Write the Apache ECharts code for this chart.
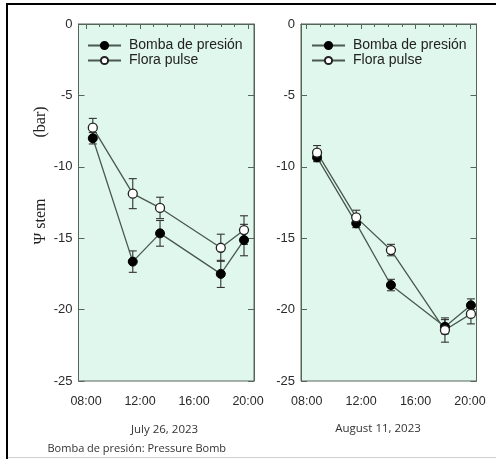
<!DOCTYPE html>
<html>
<head>
<meta charset="utf-8">
<script src="https://cdn.jsdelivr.net/npm/echarts@6/dist/echarts.min.js"></script>
<style>
html,body{margin:0;padding:0;background:#fff;}
#c{width:496px;height:459px;}
</style>
</head>
<body>
<div id="c"></div>
<script>
// ---- data ----
const seriesNames = ['Bomba de presión', 'Flora pulse'];
const dateLabels = ['July 26, 2023', 'August 11, 2023'];
const footnote = 'Bomba de presión: Pressure Bomb';
const xTickHours = [8, 12, 16, 20];
const yTicks = [0, -5, -10, -15, -20, -25];

// July 26, 2023
const julHours = [8.5, 11.46, 13.48, 17.98, 19.7];
const julBomba = [-8.0, -16.64, -14.66, -17.5, -15.13];
const julBombaErr = [0.4, 0.75, 0.9, 0.95, 1.1];
const julFlora = [-7.26, -11.88, -12.88, -15.67, -14.43];
const julFloraErr = [0.65, 1.05, 0.75, 0.95, 1.0];

// August 11, 2023
const augHours = [8.76, 11.64, 14.19, 18.16, 20.07];
const augBomba = [-9.34, -13.96, -18.28, -21.2, -19.7];
const augBombaErr = [0.3, 0.3, 0.4, 0.5, 0.45];
const augFlora = [-9.01, -13.54, -15.83, -21.43, -20.3];
const augFloraErr = [0.5, 0.5, 0.4, 0.85, 0.7];

// ---- styles ----
const axisColor = '#56645a';
const lineColor = '#4a584e';
const bg = '#dff7ec';
const sans = "'Liberation Sans',Arial,sans-serif";
const hourMinor = [];
for (let h = 8; h <= 20; h++) hourMinor.push(h);

function pts(hours, vals) { return hours.map((h, i) => [h, vals[i]]); }
function errs(hours, vals, e) { return hours.map((h, i) => [h, vals[i] - e[i], vals[i] + e[i]]); }

function fmtHour(v) { return (v < 10 ? '0' : '') + v + ':00'; }

function xAxes(grid, min, max) {
  return [
    {
      type: 'value', gridIndex: grid, min: min, max: max, position: 'bottom',
      axisLine: { show: true, lineStyle: { color: axisColor, width: 1 } },
      axisTick: { show: true, inside: false, length: 5, customValues: xTickHours, lineStyle: { color: axisColor } },
      axisLabel: { customValues: xTickHours, formatter: fmtHour, fontFamily: sans, fontSize: 12.5, color: '#2a2a2a', margin: 14 },
      splitLine: { show: false }
    },
    {
      type: 'value', gridIndex: grid, min: min, max: max, position: 'bottom',
      axisLine: { show: false },
      axisTick: { show: true, inside: false, length: 3, customValues: hourMinor, lineStyle: { color: axisColor } },
      axisLabel: { show: false },
      splitLine: { show: false }
    }
  ];
}
function yAxes(grid) {
  return [
    {
      type: 'value', gridIndex: grid, min: -25, max: 0, interval: 5, position: 'left',
      axisLine: { show: true, lineStyle: { color: axisColor, width: 1 } },
      axisTick: { show: true, inside: true, length: 6, lineStyle: { color: axisColor } },
      axisLabel: { fontFamily: sans, fontSize: 13, color: '#2a2a2a', margin: 6 },
      splitLine: { show: false }
    },
    {
      type: 'value', gridIndex: grid, min: -25, max: 0, interval: 5, position: 'right',
      axisLine: { show: true, lineStyle: { color: axisColor, width: 1 } },
      axisTick: { show: true, inside: true, length: 6, lineStyle: { color: axisColor } },
      axisLabel: { show: false },
      splitLine: { show: false }
    }
  ];
}

function errorSeries(xi, yi, data) {
  return {
    type: 'custom', xAxisIndex: xi, yAxisIndex: yi, z: 2, silent: true,
    encode: { x: 0, y: [1, 2] },
    data: data,
    renderItem: function (params, api) {
      const x = api.value(0), lo = api.value(1), hi = api.value(2);
      const a = api.coord([x, lo]), b = api.coord([x, hi]);
      const w = 4;
      const st = { stroke: '#333', lineWidth: 1.1 };
      return {
        type: 'group', children: [
          { type: 'line', shape: { x1: a[0], y1: a[1], x2: b[0], y2: b[1] }, style: st },
          { type: 'line', shape: { x1: a[0] - w, y1: a[1], x2: a[0] + w, y2: a[1] }, style: st },
          { type: 'line', shape: { x1: b[0] - w, y1: b[1], x2: b[0] + w, y2: b[1] }, style: st }
        ]
      };
    }
  };
}
function lineSeries(name, xi, yi, data, filled) {
  return {
    name: name, type: 'line', xAxisIndex: xi, yAxisIndex: yi, z: 5,
    data: data, symbol: 'circle', symbolSize: 9, showSymbol: true,
    animation: false,
    lineStyle: { color: lineColor, width: 1.3 },
    itemStyle: filled ? { color: '#000', borderColor: '#000', borderWidth: 1 } : { color: '#fff', borderColor: '#222', borderWidth: 1.3 }
  };
}
function legend(left) {
  return {
    orient: 'vertical', left: left, top: 38, itemWidth: 33, itemHeight: 9, itemGap: 0,
    data: seriesNames, selectedMode: false,
    textStyle: { fontFamily: sans, fontSize: 14, color: '#222', lineHeight: 15, padding: [0, 0, 0, 3] },
    padding: 0
  };
}

const chart = echarts.init(document.getElementById('c'), null, { renderer: 'canvas' });
chart.setOption({
  animation: false,
  backgroundColor: '#fff',
  grid: [
    { left: 78.5, top: 24, width: 175.5, height: 357, show: true, backgroundColor: bg, borderColor: axisColor, borderWidth: 1 },
    { left: 301, top: 24, width: 175.5, height: 357, show: true, backgroundColor: bg, borderColor: axisColor, borderWidth: 1 }
  ],
  xAxis: [].concat(xAxes(0, 7.44, 20.44), xAxes(1, 7.58, 20.48)),
  yAxis: [].concat(yAxes(0), yAxes(1)),
  legend: [legend(87), legend(311)],
  series: [
    errorSeries(0, 0, errs(julHours, julBomba, julBombaErr)),
    errorSeries(0, 0, errs(julHours, julFlora, julFloraErr)),
    errorSeries(2, 2, errs(augHours, augBomba, augBombaErr)),
    errorSeries(2, 2, errs(augHours, augFlora, augFloraErr)),
    lineSeries(seriesNames[0], 0, 0, pts(julHours, julBomba), true),
    lineSeries(seriesNames[1], 0, 0, pts(julHours, julFlora), false),
    lineSeries(seriesNames[0], 2, 2, pts(augHours, augBomba), true),
    lineSeries(seriesNames[1], 2, 2, pts(augHours, augFlora), false)
  ],
  graphic: [
    { type: 'rect', shape: { x: 6, y: 3, width: 490, height: 2 }, style: { fill: '#000' } },
    { type: 'rect', shape: { x: 6, y: 3, width: 2, height: 456 }, style: { fill: '#000' } },
    { type: 'rect', shape: { x: 8, y: 457, width: 488, height: 1 }, style: { fill: '#cfcfcf' } },
    { type: 'text', x: 41, y: 221.5, rotation: Math.PI / 2,
      style: { text: 'Ψ stem', font: "16px 'Liberation Serif','DejaVu Serif',serif", fill: '#222', align: 'center', verticalAlign: 'middle' } },
    { type: 'text', x: 41, y: 122, rotation: Math.PI / 2,
      style: { text: '(bar)', font: "16px 'Liberation Serif','DejaVu Serif',serif", fill: '#222', align: 'center', verticalAlign: 'middle' } },
    { type: 'text', x: 164.5, y: 430,
      style: { text: dateLabels[0], font: "11.5px 'Open Sans',sans-serif", fill: '#333', align: 'center', verticalAlign: 'middle' } },
    { type: 'text', x: 378, y: 429,
      style: { text: dateLabels[1], font: "11.5px 'Open Sans',sans-serif", fill: '#333', align: 'center', verticalAlign: 'middle' } },
    { type: 'text', x: 47.5, y: 449,
      style: { text: footnote, font: "11px 'Open Sans',sans-serif", fill: '#333', align: 'left', verticalAlign: 'middle' } }
  ]
});
</script>
</body>
</html>
